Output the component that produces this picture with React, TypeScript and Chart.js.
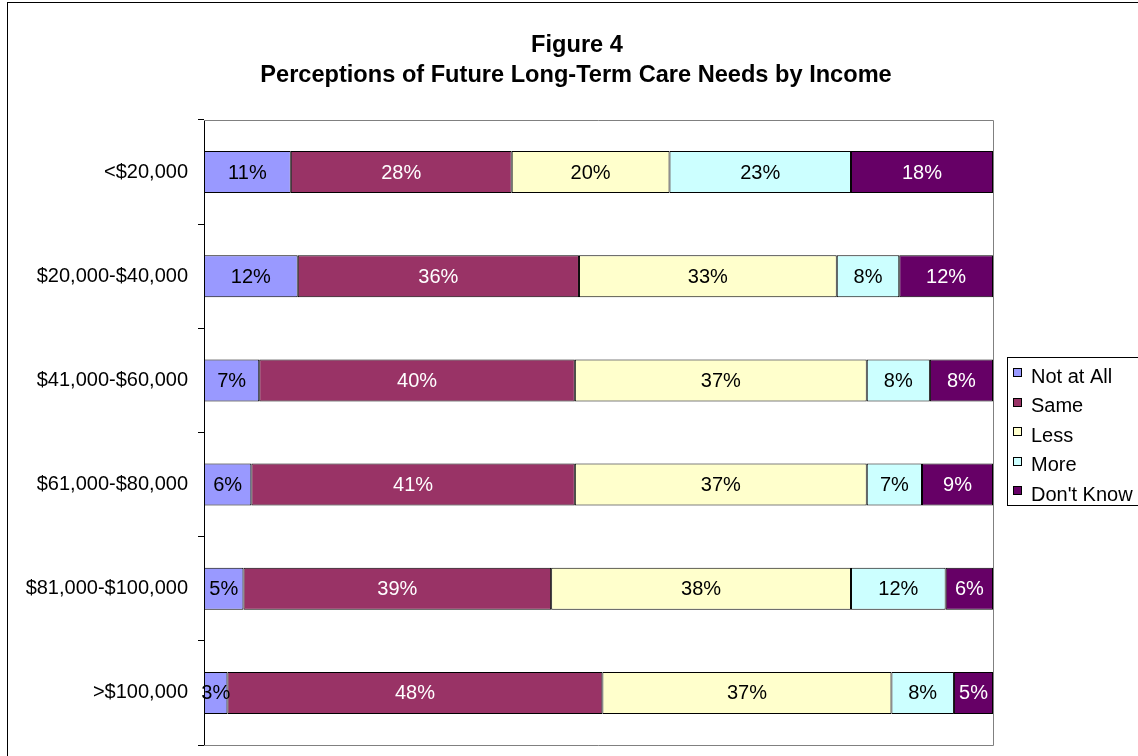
import React, { useEffect, useRef } from "react";
import { Chart, registerables } from "chart.js";

Chart.register(...registerables);

const categories = [
  "<$20,000",
  "$20,000-$40,000",
  "$41,000-$60,000",
  "$61,000-$80,000",
  "$81,000-$100,000",
  ">$100,000",
];
const seriesNames = ["Not at All", "Same", "Less", "More", "Don't Know"];
const notAtAll = [11, 12, 7, 6, 5, 3];
const same = [28, 36, 40, 41, 39, 48];
const less = [20, 33, 37, 37, 38, 37];
const more = [23, 8, 8, 7, 12, 8];
const dontKnow = [18, 12, 8, 9, 6, 5];
const seriesColors = ["#9999FF", "#993366", "#FFFFCC", "#CCFFFF", "#660066"];
const labelColors = ["#000000", "#FFFFFF", "#000000", "#000000", "#FFFFFF"];
const titleLines = ["Figure 4", "Perceptions of Future Long-Term Care Needs by Income"];

const FONT = "'Liberation Sans', Arial, sans-serif";

export default function App() {
  const canvasRef = useRef<HTMLCanvasElement | null>(null);

  useEffect(() => {
    const canvas = canvasRef.current;
    if (!canvas) return;

    const raw = [notAtAll, same, less, more, dontKnow];
    const rowSums = categories.map((_, j) => raw.reduce((s, arr) => s + arr[j], 0));
    const datasets = raw.map((arr, i) => ({
      label: seriesNames[i],
      data: arr.map((v, j) => (v / rowSums[j]) * 100),
      backgroundColor: seriesColors[i],
      borderColor: "#000000",
      borderWidth: 1,
      borderSkipped: false as const,
      barPercentage: 0.403,
      categoryPercentage: 1,
    }));

    const framePlugin = {
      id: "frameAndTitle",
      beforeDraw(chart: any) {
        const ctx = chart.ctx;
        ctx.save();
        ctx.fillStyle = "#ffffff";
        ctx.fillRect(0, 0, chart.width, chart.height);
        ctx.strokeStyle = "#000000";
        ctx.lineWidth = 1;
        ctx.strokeRect(7.5, 2.5, chart.width + 50, chart.height + 50);
        ctx.fillStyle = "#000000";
        ctx.font = `bold 23.6px ${FONT}`;
        ctx.textAlign = "center";
        ctx.textBaseline = "middle";
        ctx.fillText(titleLines[0], 577, 45);
        ctx.fillText(titleLines[1], 576, 75);
        ctx.restore();
      },
    };

    const plotBorderPlugin = {
      id: "plotBorder",
      beforeDatasetsDraw(chart: any) {
        const { left, right, top, bottom } = chart.chartArea;
        const ctx = chart.ctx;
        ctx.save();
        ctx.strokeStyle = "#808080";
        ctx.lineWidth = 1;
        ctx.beginPath();
        ctx.moveTo(left, Math.round(top) + 0.5);
        ctx.lineTo(Math.round(right) + 0.5, Math.round(top) + 0.5);
        ctx.lineTo(Math.round(right) + 0.5, Math.round(bottom) + 0.5);
        ctx.lineTo(left, Math.round(bottom) + 0.5);
        ctx.stroke();
        ctx.restore();
      },
    };

    const dataLabelPlugin = {
      id: "segLabels",
      afterDatasetsDraw(chart: any) {
        const ctx = chart.ctx;
        ctx.save();
        ctx.font = `20px ${FONT}`;
        ctx.textAlign = "center";
        ctx.textBaseline = "middle";
        raw.forEach((arr, i) => {
          const meta = chart.getDatasetMeta(i);
          meta.data.forEach((el: any, j: number) => {
            const cx = (el.x + el.base) / 2;
            ctx.fillStyle = labelColors[i];
            ctx.fillText(`${arr[j]}%`, cx, el.y + 1);
          });
        });
        ctx.restore();
      },
    };

    const legendPlugin = {
      id: "boxLegend",
      afterDraw(chart: any) {
        const ctx = chart.ctx;
        ctx.save();
        ctx.strokeStyle = "#000000";
        ctx.lineWidth = 1;
        ctx.strokeRect(1007.5, 357.5, 200, 148);
        ctx.font = `20px ${FONT}`;
        ctx.textAlign = "left";
        ctx.textBaseline = "middle";
        chart.data.datasets.forEach((ds: any, i: number) => {
          const cy = 377 + i * 29.6;
          ctx.fillStyle = ds.backgroundColor;
          ctx.fillRect(1013, Math.round(cy) - 9, 8, 8);
          ctx.strokeStyle = "#000000";
          ctx.strokeRect(1013.5, Math.round(cy) - 8.5, 8, 8);
          ctx.fillStyle = "#000000";
          ctx.fillText(ds.label, 1031, cy);
        });
        ctx.restore();
      },
    };

    const chart = new Chart(canvas, {
      type: "bar",
      data: { labels: categories, datasets },
      options: {
        indexAxis: "y",
        responsive: false,
        animation: false,
        events: [],
        layout: { padding: { left: 0, top: 120, right: 145, bottom: 11 } },
        plugins: {
          legend: { display: false },
          title: { display: false },
          tooltip: { enabled: false },
        },
        scales: {
          x: {
            stacked: true,
            min: 0,
            max: 100,
            display: false,
          },
          y: {
            stacked: true,
            offset: true,
            afterFit(scale: any) {
              scale.width = 204;
              scale.paddingTop = 0;
              scale.paddingBottom = 0;
            },
            grid: {
              offset: true,
              drawOnChartArea: false,
              drawTicks: true,
              tickLength: 6,
              color: "#000000",
            },
            border: { display: true, color: "#000000", width: 1 },
            ticks: {
              color: "#000000",
              padding: 10,
              font: { family: FONT, size: 20 },
            },
          },
        },
      },
      plugins: [framePlugin, plotBorderPlugin, dataLabelPlugin, legendPlugin],
    } as any);

    return () => chart.destroy();
  }, []);

  return (
    <div style={{ position: "absolute", left: 0, top: 0, width: 1138, height: 756 }}>
      <canvas ref={canvasRef} width={1138} height={756} style={{ width: 1138, height: 756, display: "block" }} />
    </div>
  );
}
